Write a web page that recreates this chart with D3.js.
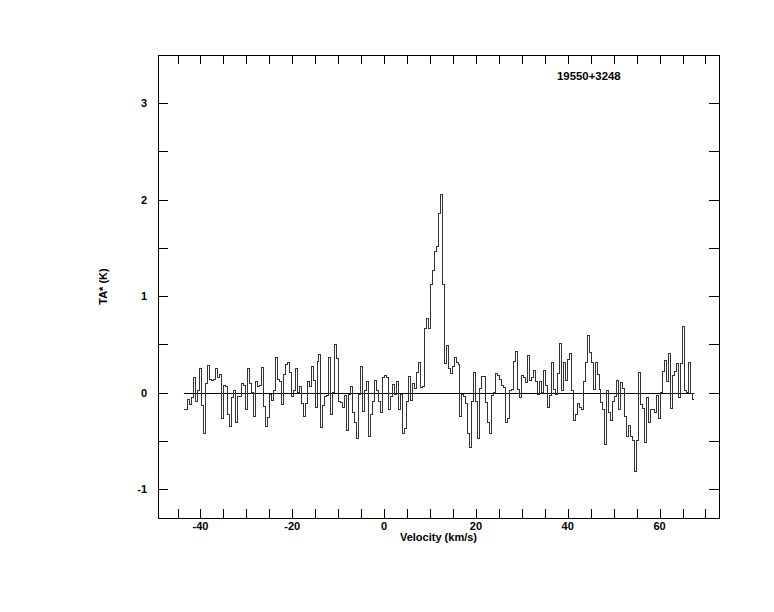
<!DOCTYPE html>
<html>
<head>
<meta charset="utf-8">
<script src="https://cdn.jsdelivr.net/npm/d3@7"></script>
<style>
  html, body { margin: 0; padding: 0; background: #fff; }
  text { font-family: "Liberation Sans", Arial, Helvetica, sans-serif; font-weight: bold; font-size: 11px; fill: #000; }
</style>
</head>
<body>
<svg id="chart" width="774" height="612"></svg>
<script>
// ---- data ----
const sourceName = "19550+3248";
const xLabel = "Velocity (km/s)";
const yLabel = "TA* (K)";
const xTickValues = [-40, -20, 0, 20, 40, 60];
const yTickValues = [-1, 0, 1, 2, 3];
const vStart = -43.6;      // left edge of first channel (km/s)
const dV = 0.4326;         // channel width (km/s)
const ta = [
  -0.17, -0.17, -0.07, -0.12, -0.05, 0.16, -0.09, 0.02, 0.25, -0.13,
  -0.42, 0.09, 0.28, 0.14, 0.13, 0.14, 0.25, 0.16, 0.19, -0.27,
  0.07, 0.06, -0.23, -0.35, -0.05, 0.02, -0.31, -0.04, -0.04, 0.09,
  0.07, -0.17, 0.25, 0.09, 0.0, -0.25, 0.11, 0.06, 0.07, 0.26,
  -0.14, -0.35, -0.26, -0.02, -0.08, 0.02, 0.36, 0.14, 0.12, -0.12,
  0.19, 0.29, 0.31, 0.21, -0.04, 0.02, 0.245, 0.0, 0.06, -0.11,
  -0.25, -0.11, 0.12, 0.06, 0.27, 0.13, -0.15, 0.32, 0.39, -0.36,
  -0.13, -0.04, -0.03, 0.36, -0.23, 0.0, 0.5, 0.35, -0.09, -0.1,
  -0.15, -0.03, -0.39,
  -0.02, 0.06, -0.21, -0.31, -0.48, -0.02, 0.27, -0.2, 0.02, 0.12,
  -0.45, -0.23, -0.09, 0.13, 0.02, -0.09, -0.21, 0.16, 0.18, 0.16,
  -0.17, -0.04, 0.08, -0.02, 0.12, -0.17, -0.02, -0.42, -0.37, -0.09,
  0.17, -0.08, 0.09, 0.04, 0.21, 0.31, 0.055, 0.065,
  0.66, 0.77, 0.66, 1.125, 1.27, 1.46, 1.51, 1.86, 2.05, 1.12,
  0.3, 0.49, 0.25, 0.2, 0.27, 0.36, 0.31, 0.29,
  -0.25, -0.02, -0.04, -0.11, -0.42, -0.57, -0.09, 0.21, -0.09, -0.48,
  0.04, 0.17, 0.17, -0.1, -0.31, -0.42, -0.03, 0.0, 0.2, 0.18,
  0.14, 0.07, 0.05, -0.31, -0.27, 0.02, 0.03, 0.32, 0.43,
  0.03, -0.055, 0.18, 0.16, 0.1, 0.38, 0.13, 0.16, 0.23, 0.11,
  -0.02, 0.11, 0.0, 0.23, 0.07, -0.15, -0.03, 0.31, 0.03, -0.02,
  0.2, 0.51, 0.02, 0.31, 0.13, 0.34, 0.41, 0.02, -0.29, -0.23,
  -0.11, -0.15, -0.17, 0.12, 0.31, 0.59, 0.42, 0.31, 0.03, 0.31,
  0.19, 0.03, -0.1, -0.17,
  -0.54, 0.02, -0.21, -0.29, -0.09, -0.045, 0.13, -0.17, 0.1, 0.04,
  -0.25, -0.46, -0.34, -0.46, -0.5, -0.82, -0.5, 0.21, -0.12, -0.16,
  -0.52, -0.055, -0.31, -0.17, -0.17, -0.21, -0.03, -0.27, 0.0, 0.22,
  0.33, 0.11, 0.41, -0.16, 0.18, 0.22, 0.3, -0.055, 0.3, 0.69,
  0.02, 0.0, 0.31, -0.01, -0.07
];

// ---- layout ----
const pL = 158, pR = 719, pT = 55, pB = 518;
const svg = d3.select("#chart");

const x = d3.scaleLinear().domain([-49.25, 72.95]).range([pL, pR]);
const y = d3.scaleLinear().domain([-1.3, 3.5]).range([pB, pT]);

// frame
svg.append("rect")
  .attr("x", pL + 0.5).attr("y", pT + 0.5)
  .attr("width", pR - pL).attr("height", pB - pT)
  .attr("fill", "none").attr("stroke", "#000").attr("stroke-width", 1);

// ticks (inward on all four sides)
const xMinor = d3.range(-45, 71, 5);
const yMinor = d3.range(-1, 3.51, 0.5);
const tickG = svg.append("g").attr("stroke", "#000").attr("stroke-width", 1).attr("shape-rendering", "crispEdges");
xMinor.forEach(v => {
  const px = Math.round(x(v)) + 0.5;
  tickG.append("line").attr("x1", px).attr("x2", px).attr("y1", pB).attr("y2", pB - 9);
  tickG.append("line").attr("x1", px).attr("x2", px).attr("y1", pT).attr("y2", pT + 9);
});
yMinor.forEach(v => {
  const py = Math.round(y(v)) + 0.5;
  tickG.append("line").attr("x1", pL).attr("x2", pL + 10).attr("y1", py).attr("y2", py);
  tickG.append("line").attr("x1", pR).attr("x2", pR - 10).attr("y1", py).attr("y2", py);
});

// tick labels
svg.append("g").selectAll("text").data(xTickValues).join("text")
  .attr("x", d => x(d)).attr("y", 530)
  .attr("text-anchor", "middle").text(d => d);
svg.append("g").selectAll("text").data(yTickValues).join("text")
  .attr("x", 147).attr("y", d => y(d) + 4)
  .attr("text-anchor", "end").text(d => d);

// axis titles
svg.append("text").attr("x", (pL + pR) / 2).attr("y", 541)
  .attr("text-anchor", "middle").text(xLabel);
svg.append("text")
  .attr("transform", `translate(107,${(pT + pB) / 2}) rotate(-90)`)
  .attr("text-anchor", "middle").text(yLabel);

// source name
svg.append("text").attr("x", 557).attr("y", 80).style("font-size", "11.4px").text(sourceName);

// baseline
const vEnd = vStart + ta.length * dV;
svg.append("line")
  .attr("x1", x(vStart)).attr("x2", x(vEnd))
  .attr("y1", Math.round(y(0)) + 0.5).attr("y2", Math.round(y(0)) + 0.5)
  .attr("stroke", "#000").attr("stroke-width", 1);

// histogram spectrum
const pts = [];
ta.forEach((t, i) => {
  pts.push([vStart + i * dV, t]);
  pts.push([vStart + (i + 1) * dV, t]);
});
const line = d3.line().x(d => x(d[0])).y(d => y(d[1]));
svg.append("path").attr("d", line(pts))
  .attr("fill", "none").attr("stroke", "#333").attr("stroke-width", 1)
  .attr("shape-rendering", "crispEdges");
</script>
</body>
</html>
